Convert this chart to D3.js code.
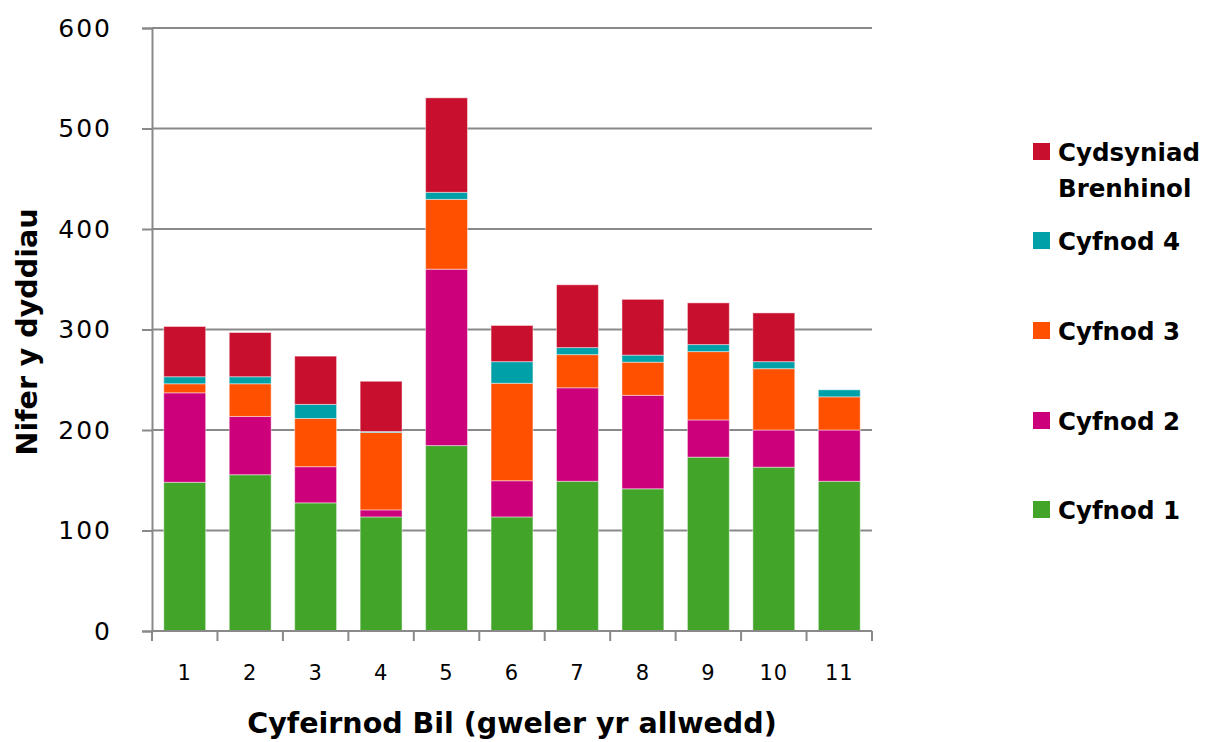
<!DOCTYPE html>
<html>
<head>
<meta charset="utf-8">
<script src="https://cdn.jsdelivr.net/npm/d3@7"></script>
<style>
  body { margin: 0; background: #fff; }
  svg { display: block; }
  text { fill: #000; }
  .num { font-family: "DejaVu Sans", sans-serif; }
  .title { font-family: "DejaVu Sans", sans-serif; font-weight: bold; }
</style>
</head>
<body>
<div id="chart"></div>
<script>
// Bill reference numbers along the x axis
const categories = ["1", "2", "3", "4", "5", "6", "7", "8", "9", "10", "11"];

// Days spent in each stage, per bill
const cyfnod1 = [148, 155.5, 127.5, 113.5, 184.5, 113.5, 149, 141.5, 173, 163, 149];
const cyfnod2 = [89, 58, 36, 7, 175.5, 36, 93, 93, 37, 37, 51];
const cyfnod3 = [9, 32.5, 48, 77, 69.5, 97, 33, 33, 68, 61, 33];
const cyfnod4 = [7, 7, 14, 1, 7, 21.5, 7, 7, 7, 7, 7];
const cydsyniad = [50, 44, 48, 50, 94, 36, 62.5, 55.5, 41.5, 48.5, 0];

const seriesNames = ["Cyfnod 1", "Cyfnod 2", "Cyfnod 3", "Cyfnod 4", "Cydsyniad Brenhinol"];
const seriesValues = [cyfnod1, cyfnod2, cyfnod3, cyfnod4, cydsyniad];
const seriesColors = ["#42A52A", "#CC007A", "#FF5000", "#00A0A8", "#C8102E"];

const yTicks = [0, 100, 200, 300, 400, 500, 600];

const width = 1212, height = 742;
const margin = { left: 152, right: 340, top: 28, bottom: 111 };

const svg = d3.select("#chart").append("svg")
  .attr("width", width).attr("height", height);

const x = d3.scaleBand()
  .domain(categories)
  .range([margin.left, width - margin.right])
  .paddingInner(0.36).paddingOuter(0.18);

const y = d3.scaleLinear()
  .domain([0, 600])
  .range([height - margin.bottom, margin.top]);

const gridColor = "#898989";

// Horizontal gridlines
svg.append("g").selectAll("line")
  .data(yTicks.filter(d => d > 0))
  .join("line")
  .attr("x1", margin.left).attr("x2", width - margin.right)
  .attr("y1", d => y(d)).attr("y2", d => y(d))
  .attr("stroke", gridColor).attr("stroke-width", 2);

// Stack the series
const rows = categories.map((c, i) => {
  const r = { cat: c };
  seriesNames.forEach((s, k) => { r[s] = seriesValues[k][i]; });
  return r;
});
const stacked = d3.stack().keys(seriesNames)(rows);

svg.append("g").selectAll("g")
  .data(stacked)
  .join("g")
  .attr("fill", (d, i) => seriesColors[i])
  .selectAll("rect")
  .data(d => d.filter(p => p[1] - p[0] > 0))
  .join("rect")
  .attr("x", d => x(d.data.cat))
  .attr("width", x.bandwidth())
  .attr("y", d => y(d[1]))
  .attr("height", d => y(d[0]) - y(d[1]))
  .attr("stroke", "rgba(255,255,255,0.45)")
  .attr("stroke-width", 1);

// Y axis
const yAxis = d3.axisLeft(y).tickValues(yTicks).tickSize(10).tickPadding(30)
  .tickFormat(d3.format("d"));
const gy = svg.append("g")
  .attr("transform", `translate(${margin.left},0)`)
  .call(yAxis);
gy.select(".domain").attr("stroke", gridColor).attr("stroke-width", 2);
gy.selectAll(".tick line").attr("stroke", gridColor).attr("stroke-width", 2);
gy.selectAll(".tick text")
  .attr("class", "num")
  .attr("font-size", 25)
  .attr("letter-spacing", 2)
  .attr("font-family", null)
  .attr("fill", "#000");

// X axis with tick marks between categories
const xAxisY = y(0);
const gx = svg.append("g");
gx.append("line")
  .attr("x1", margin.left).attr("x2", width - margin.right)
  .attr("y1", xAxisY).attr("y2", xAxisY)
  .attr("stroke", gridColor).attr("stroke-width", 2);
const boundaries = d3.range(categories.length + 1).map(i => margin.left + i * (width - margin.left - margin.right) / categories.length);
gx.selectAll("line.tk")
  .data(boundaries)
  .join("line")
  .attr("class", "tk")
  .attr("x1", d => d).attr("x2", d => d)
  .attr("y1", xAxisY).attr("y2", xAxisY + 10)
  .attr("stroke", gridColor).attr("stroke-width", 2);
gx.selectAll("text")
  .data(categories)
  .join("text")
  .attr("class", "num")
  .attr("x", d => x(d) + x.bandwidth() / 2)
  .attr("y", xAxisY + 49)
  .attr("text-anchor", "middle")
  .attr("font-size", 21)
  .attr("letter-spacing", 1)
  .text(d => d);

// Axis titles
svg.append("text")
  .attr("class", "title")
  .attr("x", (margin.left + width - margin.right) / 2)
  .attr("y", 733)
  .attr("text-anchor", "middle")
  .attr("font-size", 28.5)
  .text("Cyfeirnod Bil (gweler yr allwedd)");

svg.append("text")
  .attr("class", "title")
  .attr("transform", `translate(37,332) rotate(-90)`)
  .attr("text-anchor", "middle")
  .attr("font-size", 28.5)
  .text("Nifer y dyddiau");

// Legend, top entry first
const legendItems = [
  { name: ["Cydsyniad", "Brenhinol"], color: seriesColors[4], y: 143 },
  { name: ["Cyfnod 4"], color: seriesColors[3], y: 232 },
  { name: ["Cyfnod 3"], color: seriesColors[2], y: 322 },
  { name: ["Cyfnod 2"], color: seriesColors[1], y: 412 },
  { name: ["Cyfnod 1"], color: seriesColors[0], y: 501 }
];
const lg = svg.append("g").selectAll("g")
  .data(legendItems)
  .join("g")
  .attr("transform", d => `translate(1033,${d.y})`);
lg.append("rect")
  .attr("width", 17).attr("height", 17)
  .attr("fill", d => d.color);
lg.each(function(d) {
  const t = d3.select(this).append("text")
    .attr("class", "title")
    .attr("font-size", 24.5);
  d.name.forEach((line, i) => {
    t.append("tspan")
      .attr("x", 25)
      .attr("y", 18 + i * 36)
      .text(line);
  });
});
</script>
</body>
</html>
